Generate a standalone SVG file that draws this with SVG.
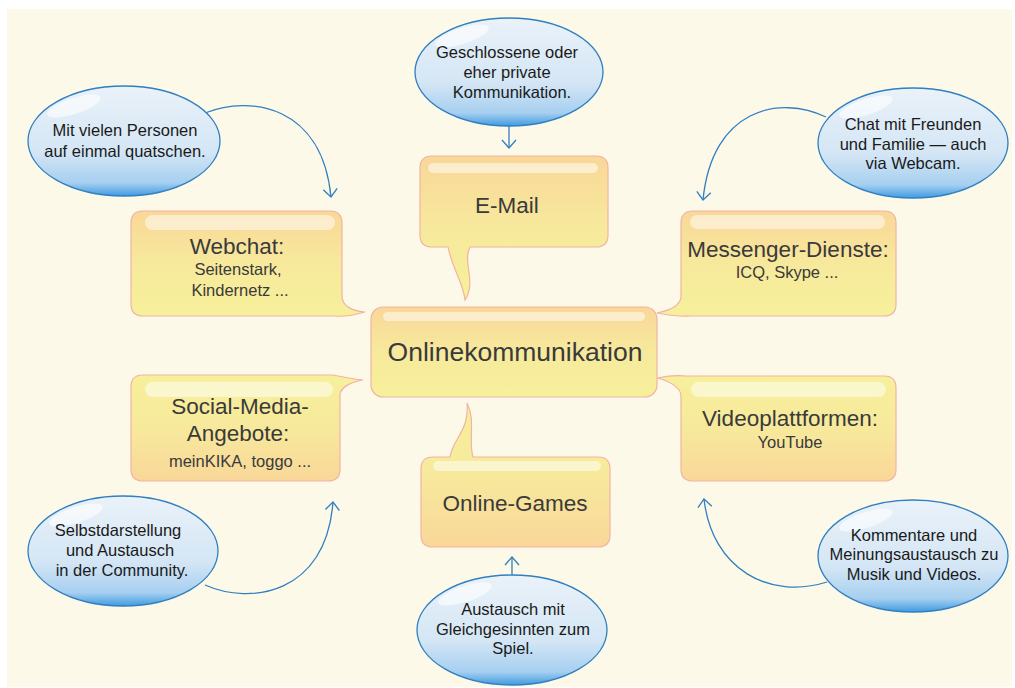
<svg xmlns="http://www.w3.org/2000/svg" width="1015" height="688" viewBox="0 0 1015 688">
<defs>
<linearGradient id="gTop" x1="0" y1="0" x2="0" y2="1">
<stop offset="0" stop-color="#f9d799"/><stop offset="0.5" stop-color="#f7e99c"/><stop offset="1" stop-color="#f6f09b"/>
</linearGradient>
<linearGradient id="gBot" x1="0" y1="0" x2="0" y2="1">
<stop offset="0" stop-color="#f6f09b"/><stop offset="0.5" stop-color="#f7e99c"/><stop offset="1" stop-color="#f9d799"/>
</linearGradient>
<linearGradient id="gEll" x1="0" y1="0" x2="0" y2="1">
<stop offset="0" stop-color="#eaf2f9"/><stop offset="0.6" stop-color="#d4e6f5"/><stop offset="0.88" stop-color="#a6cff0"/><stop offset="1" stop-color="#3f9be0"/>
</linearGradient>
<marker id="arr" markerUnits="userSpaceOnUse" markerWidth="20" markerHeight="20" refX="10" refY="10" orient="auto" viewBox="0 0 20 20">
<path d="M2,3 L10,10 L2,17" fill="none" stroke="#2f7fc1" stroke-width="1.3"/>
</marker>
</defs>
<style>
.box{stroke:#f3b3a4;stroke-width:1.2}
.hl{fill:#ffffff;opacity:0.5}
.ell{fill:url(#gEll);stroke:#2f7fc1;stroke-width:1.3}
.shine{fill:#ffffff;opacity:0.6}
.t1{font-family:"Liberation Sans",Arial,sans-serif;fill:#3a3a3a;text-anchor:middle}
.big{font-size:26.5px}
.mid{font-size:22.5px}
.sm{font-size:16.5px}
.et{font-family:"Liberation Sans",Arial,sans-serif;font-size:16.5px;fill:#1a1a1a;text-anchor:middle}
.con{fill:none;stroke:#2f7fc1;stroke-width:1.3;marker-end:url(#arr)}
</style>
<rect x="0" y="0" width="1015" height="688" fill="#ffffff"/>
<rect x="7" y="9" width="1005" height="678" fill="#fdf9e8"/>

<g id="connectors">
<path class="con" d="M509,126 V148"/>
<path class="con" d="M512,576 V557"/>
<path class="con" d="M205,113 C250,95 322,105 331,197"/>
<path class="con" d="M826,117 C780,95 712,108 703,200"/>
<path class="con" d="M205,585 C250,605 326,595 333,502"/>
<path class="con" d="M827,582 C770,600 712,570 704,499"/>
</g>

<g id="central">
<rect class="box" x="371" y="307" width="286" height="90" rx="12" fill="url(#gTop)"/>
<rect class="hl" x="383" y="312" width="262" height="9" rx="4.5"/>
<text class="t1 big" x="515" y="361">Onlinekommunikation</text>
</g>

<g id="email">
<path class="box" fill="url(#gTop)" d="M432,156 H596 Q608,156 608,168 V235 Q608,247 596,247 H470 C462,262 477,282 465,300 C463,282 452,268 448,247 H432 Q420,247 420,235 V168 Q420,156 432,156 Z"/>
<rect class="hl" x="428" y="163" width="170" height="10" rx="5"/>
<text class="t1 mid" x="507" y="213">E-Mail</text>
</g>

<g id="webchat">
<path class="box" fill="url(#gTop)" d="M143,211 H330 Q342,211 342,223 V296 C342,306 352,311 365,312 C355,315 345,317 334,316 H143 Q131,316 131,304 V223 Q131,211 143,211 Z"/>
<rect class="hl" x="145" y="215" width="190" height="15" rx="7.5"/>
<text class="t1 mid" x="237" y="254">Webchat:</text>
<text class="t1 sm" x="238" y="275">Seitenstark,</text>
<text class="t1 sm" x="240" y="296">Kindernetz ...</text>
</g>

<g id="messenger">
<path class="box" fill="url(#gTop)" d="M693,211 H884 Q896,211 896,223 V304 Q896,316 884,316 H690 C680,317 668,315 657,313 C672,310 681,304 681,296 V223 Q681,211 693,211 Z"/>
<rect class="hl" x="690" y="215" width="195" height="14" rx="7"/>
<text class="t1 mid" x="788" y="257">Messenger-Dienste:</text>
<text class="t1 sm" x="787" y="278">ICQ, Skype ...</text>
</g>

<g id="social">
<path class="box" fill="url(#gBot)" d="M143,375 H333 C343,377 352,379 363,380 C350,382 340,388 340,395 V469 Q340,481 328,481 H143 Q131,481 131,469 V387 Q131,375 143,375 Z"/>
<rect class="hl" x="145" y="382" width="188" height="15" rx="7.5"/>
<text class="t1 mid" x="240" y="414">Social-Media-</text>
<text class="t1 mid" x="238" y="441">Angebote:</text>
<text class="t1 sm" x="240" y="467">meinKIKA, toggo ...</text>
</g>

<g id="video">
<path class="box" fill="url(#gBot)" d="M657,378 C667,376 676,375 686,376 H884 Q896,376 896,388 V469 Q896,481 884,481 H693 Q681,481 681,469 V396 C681,388 670,381 657,378 Z"/>
<rect class="hl" x="691" y="382" width="195" height="15" rx="7.5"/>
<text class="t1 mid" x="790" y="426">Videoplattformen:</text>
<text class="t1 sm" x="790" y="448">YouTube</text>
</g>

<g id="games">
<path class="box" fill="url(#gBot)" d="M433,457 H450 C452,440 470,430 467,403 C476,420 468,440 473,457 H598 Q610,457 610,469 V535 Q610,547 598,547 H433 Q421,547 421,535 V469 Q421,457 433,457 Z"/>
<rect class="hl" x="433" y="461" width="168" height="10" rx="5"/>
<text class="t1 mid" x="515" y="511">Online-Games</text>
</g>

<g id="ell-email">
<ellipse class="ell" cx="509" cy="72" rx="94" ry="54"/>
<ellipse class="shine" cx="462" cy="36" rx="28" ry="8" transform="rotate(-18 462 36)"/>
<text class="et" x="507" y="58">Geschlossene oder</text>
<text class="et" x="507" y="78">eher private</text>
<text class="et" x="512" y="98">Kommunikation.</text>
</g>

<g id="ell-webchat">
<ellipse class="ell" cx="124" cy="141" rx="96" ry="55"/>
<ellipse class="shine" cx="74" cy="106" rx="28" ry="8" transform="rotate(-18 74 106)"/>
<text class="et" x="125" y="136">Mit vielen Personen</text>
<text class="et" x="125" y="157">auf einmal quatschen.</text>
</g>

<g id="ell-messenger">
<ellipse class="ell" cx="913" cy="143" rx="95" ry="55"/>
<ellipse class="shine" cx="866" cy="107" rx="28" ry="8" transform="rotate(-18 866 107)"/>
<text class="et" x="913" y="130">Chat mit Freunden</text>
<text class="et" x="913" y="150">und Familie — auch</text>
<text class="et" x="913" y="169">via Webcam.</text>
</g>

<g id="ell-social">
<ellipse class="ell" cx="123" cy="551" rx="95" ry="55"/>
<ellipse class="shine" cx="76" cy="515" rx="28" ry="8" transform="rotate(-18 76 515)"/>
<text class="et" x="118" y="536">Selbstdarstellung</text>
<text class="et" x="120" y="556">und Austausch</text>
<text class="et" x="122" y="576">in der Community.</text>
</g>

<g id="ell-video">
<ellipse class="ell" cx="913" cy="556" rx="95" ry="56"/>
<ellipse class="shine" cx="866" cy="520" rx="28" ry="8" transform="rotate(-18 866 520)"/>
<text class="et" x="914" y="541">Kommentare und</text>
<text class="et" x="914" y="560">Meinungsaustausch zu</text>
<text class="et" x="914" y="580">Musik und Videos.</text>
</g>

<g id="ell-games">
<ellipse class="ell" cx="512" cy="630" rx="95" ry="55"/>
<ellipse class="shine" cx="465" cy="594" rx="28" ry="8" transform="rotate(-18 465 594)"/>
<text class="et" x="513" y="615">Austausch mit</text>
<text class="et" x="513" y="635">Gleichgesinnten zum</text>
<text class="et" x="513" y="654">Spiel.</text>
</g>
</svg>
